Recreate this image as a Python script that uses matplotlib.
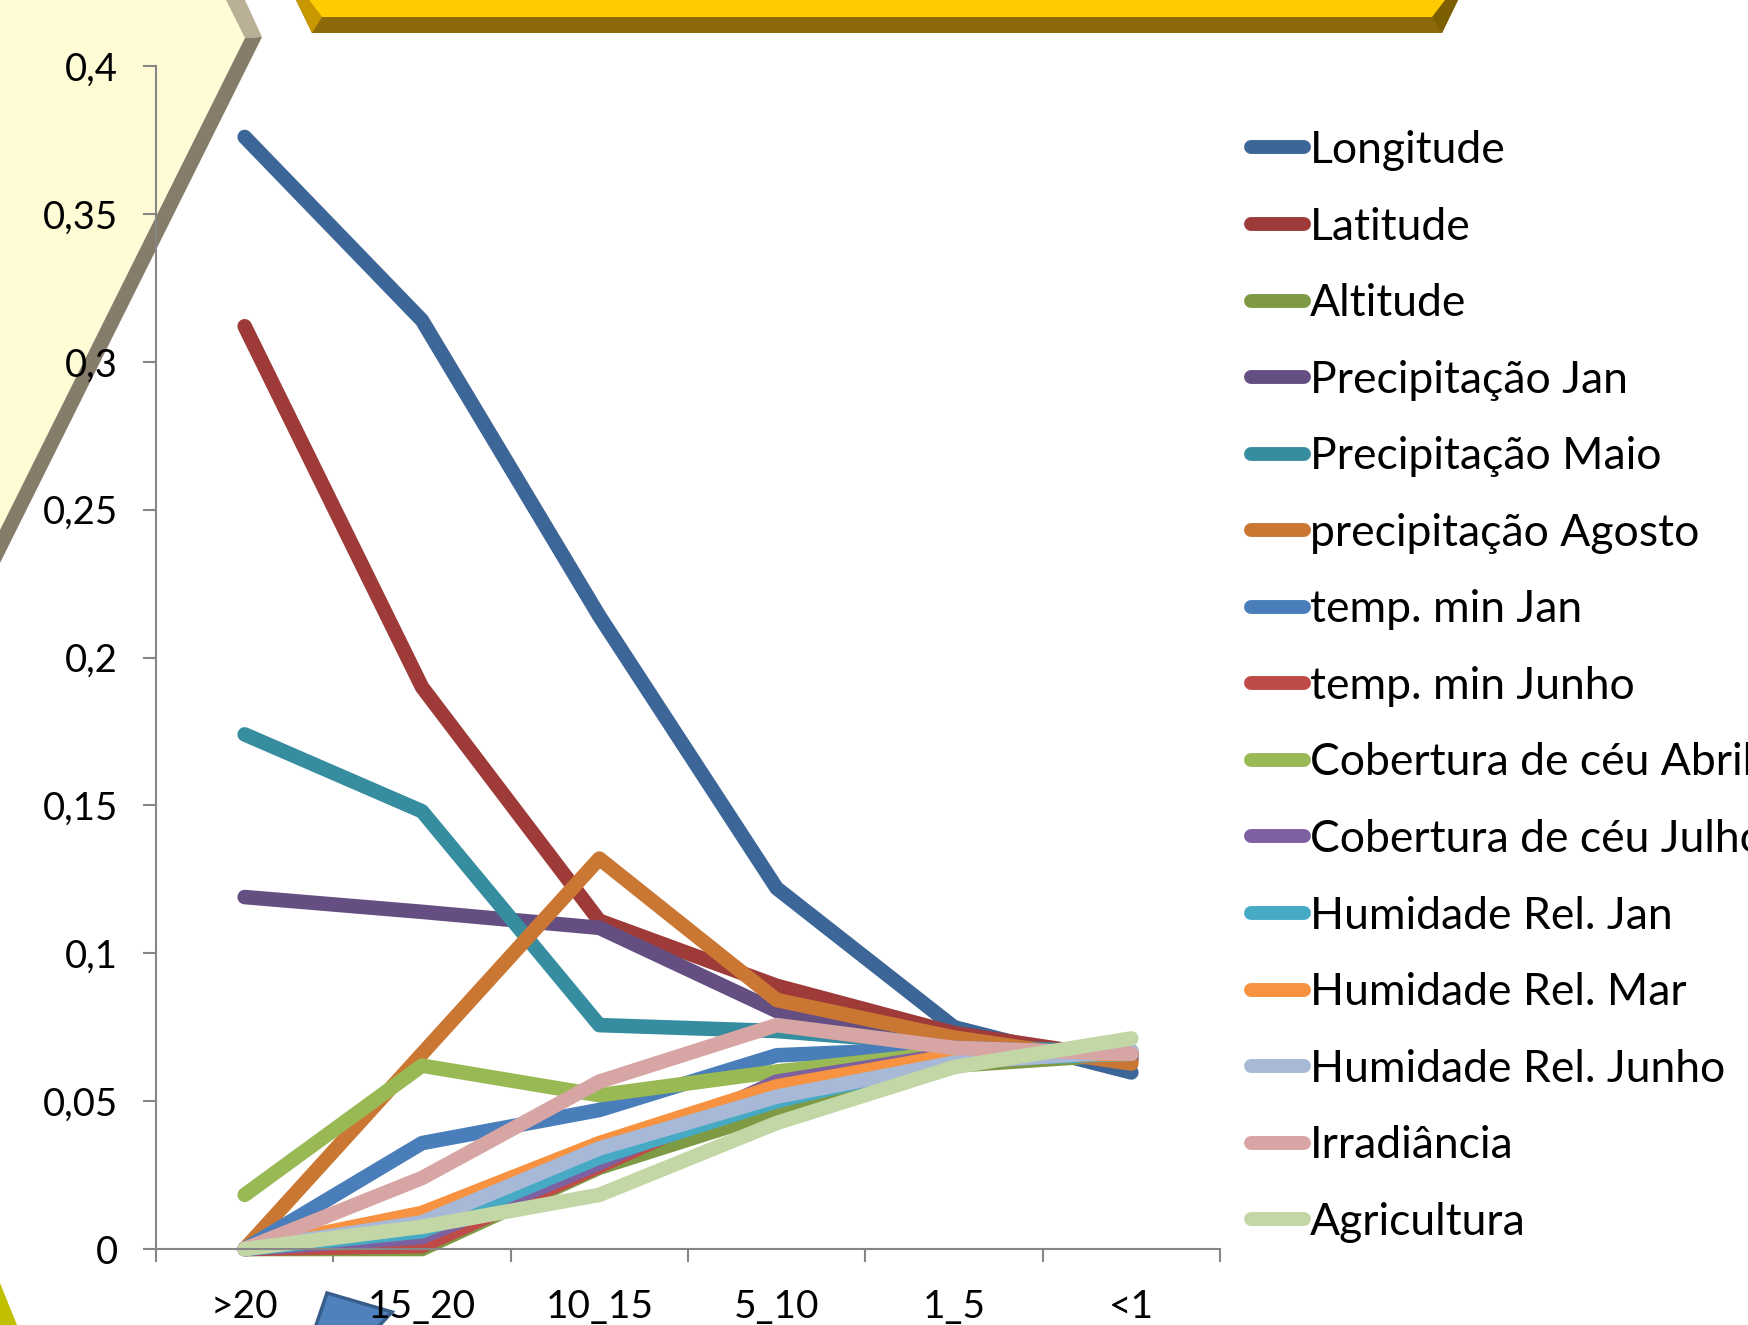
import matplotlib
matplotlib.use("Agg")
import matplotlib.pyplot as plt
from matplotlib.patches import Polygon
import numpy as np

categories = ['>20', '15_20', '10_15', '5_10', '1_5', '<1']

series_names = ['Longitude', 'Latitude', 'Altitude', 'Precipitação Jan', 'Precipitação Maio',
                'precipitação Agosto', 'temp. min Jan', 'temp. min Junho',
                'Cobertura de céu Abril', 'Cobertura de céu Julho', 'Humidade Rel. Jan',
                'Humidade Rel. Mar', 'Humidade Rel. Junho', 'Irradiância', 'Agricultura']

longitude = [0.376, 0.314, 0.214, 0.122, 0.075, 0.0597]
latitude = [0.312, 0.190, 0.111, 0.089, 0.073, 0.064]
altitude = [0.0, 0.0, 0.0275, 0.0465, 0.062, 0.066]
precip_jan = [0.119, 0.114, 0.1086, 0.0805, 0.070, 0.065]
precip_maio = [0.174, 0.148, 0.0757, 0.0737, 0.069, 0.066]
precip_agosto = [0.0, 0.066, 0.132, 0.0842, 0.0715, 0.0627]
temp_min_jan = [0.0, 0.0358, 0.047, 0.0655, 0.068, 0.066]
temp_min_junho = [0.0, 0.001, 0.028, 0.055, 0.066, 0.066]
cob_abril = [0.0183, 0.0620, 0.0520, 0.060, 0.0665, 0.067]
cob_julho = [0.0, 0.004, 0.029, 0.0566, 0.066, 0.066]
hum_jan = [0.0, 0.006, 0.031, 0.050, 0.064, 0.066]
hum_mar = [0.0, 0.0122, 0.0358, 0.055, 0.0655, 0.066]
hum_junho = [0.0, 0.009, 0.034, 0.0515, 0.063, 0.067]
irradiancia = [0.0, 0.024, 0.0566, 0.0757, 0.068, 0.066]
agricultura = [0.0, 0.0075, 0.0183, 0.0426, 0.0615, 0.0712]

series_values = [longitude, latitude, altitude, precip_jan, precip_maio, precip_agosto,
                 temp_min_jan, temp_min_junho, cob_abril, cob_julho, hum_jan, hum_mar,
                 hum_junho, irradiancia, agricultura]

colors = ['#3C6698', '#9E3B39', '#7E9A44', '#654F82', '#378DA0', '#CA7733',
          '#4A7EBB', '#BE4B48', '#98B954', '#7D60A0', '#46AAC5', '#F69240',
          '#A7B9D7', '#D7A5A4', '#C3D6A5']

ytick_vals = [0, 0.05, 0.1, 0.15, 0.2, 0.25, 0.3, 0.35, 0.4]
ytick_labels = ['0', '0,05', '0,1', '0,15', '0,2', '0,25', '0,3', '0,35', '0,4']

W, H = 1748, 1325
plt.rcParams['font.family'] = ['Lato', 'DejaVu Sans']
fig = plt.figure(figsize=(W / 100, H / 100), dpi=100)
fig.patch.set_facecolor('white')


def px(pts):
    return [(x / W, 1 - y / H) for x, y in pts]


def fpoly(pts, color, z=-5):
    p = Polygon(px(pts), closed=True, facecolor=color, edgecolor='none',
                transform=fig.transFigure, zorder=z)
    fig.patches.append(p)


# left chevron decoration
fpoly([(0, 0), (226, 0), (245, 38), (0, 530)], '#FFFBD5')
fpoly([(226, 0), (245, 0), (262, 37), (245, 38)], '#B9AF94')
fpoly([(245, 38), (262, 37), (0, 563), (0, 530)], '#857D6A')
# top banner
fpoly([(296, 0), (1458, 0), (1442, 33), (312, 33)], '#8C6A0A')
fpoly([(296, 0), (309, 0), (322, 17), (312, 33)], '#C99700')
fpoly([(1458, 0), (1445, 0), (1432, 17), (1442, 33)], '#7D5E00')
fpoly([(309, 0), (1445, 0), (1432, 17), (322, 17)], '#FFCC02')
# bottom-left corner
fpoly([(0, 1283), (17, 1325), (0, 1325)], '#C0C000')
# blue triangle decoration (behind the tick labels)
tri = Polygon(px([(327, 1293), (392, 1312), (366, 1340), (311, 1340)]), closed=True,
              facecolor='#4F81BD', edgecolor='#385D8A', lw=2.5,
              transform=fig.transFigure, zorder=-1)
fig.patches.append(tri)

ax = fig.add_axes([156 / W, 1 - 1249 / H, (1220 - 156) / W, (1249 - 66) / H])
ax.set_facecolor('none')
x = np.arange(len(categories))
handles = []
for name, vals, c in zip(series_names, series_values, colors):
    ln, = ax.plot(x, vals, color=c, lw=10.5, solid_capstyle='round',
                  solid_joinstyle='round', clip_on=False, label=name)
    handles.append(ln)

ax.set_xlim(-0.5, len(categories) - 0.5)
ax.set_ylim(0, 0.4)
ax.set_yticks(ytick_vals)
ax.set_yticklabels(ytick_labels)
ax.set_xticks(x)
ax.set_xticklabels(categories)
ax.set_xticks(np.arange(-0.5, len(categories), 1), minor=True)
for s in ['top', 'right']:
    ax.spines[s].set_visible(False)
for s in ['left', 'bottom']:
    ax.spines[s].set_color('#868686')
    ax.spines[s].set_linewidth(1.5)
ax.tick_params(axis='x', which='major', length=0, pad=29, labelsize=28)
ax.tick_params(axis='x', which='minor', length=9.4, width=1.5, color='#868686', direction='out')
ax.tick_params(axis='y', length=9.4, width=1.5, color='#868686', direction='out',
               pad=18, labelsize=27.5)

leg = fig.legend(handles=handles, loc='upper left', bbox_to_anchor=(1251 / W, 1 - 130 / H),
                 frameon=False, fontsize=32, handlelength=1.2, handletextpad=0.12,
                 labelspacing=0.80, borderpad=0, borderaxespad=0)
for lh in leg.get_lines():
    lh.set_linewidth(10)
    lh.set_solid_capstyle('round')

fig.savefig('out.png', dpi=100)
